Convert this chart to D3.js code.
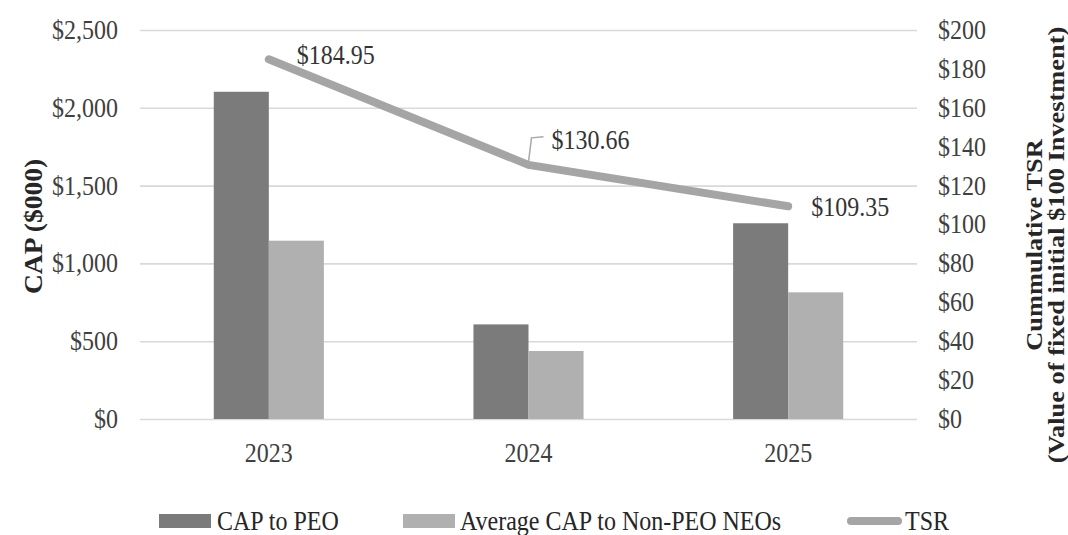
<!DOCTYPE html>
<html lang="en">
  <head>
    <meta charset="utf-8">
    <title>CAP vs TSR</title>
    <script src="https://d3js.org/d3.v7.min.js"></script>
    <style>
      body { margin: 0; background: #fff; }
      svg { display: block; font-family: "Liberation Serif", "Times New Roman", serif; }
    </style>
  </head>
  <body>
    <div id="chart"></div>
    <script>
      // data
      let years = ["2023", "2024", "2025"];
      let capPeo = [2103, 608, 1258];      // CAP to PEO ($000)
      let capNeo = [1146, 437, 814];       // Average CAP to Non-PEO NEOs ($000)
      let tsr = [184.95, 130.66, 109.35];  // cumulative TSR
      let leftTicks = [0, 500, 1000, 1500, 2000, 2500];
      let rightTicks = [0, 20, 40, 60, 80, 100, 120, 140, 160, 180, 200];

      let w = 1068, h = 535;
      let x0 = 139, x1 = 918, yTop = 30, yBot = 419;
      let sy = 1.1; // text looks a bit stretched vertically

      let darkC = "#7b7b7b", lightC = "#b0b0b0", lineC = "#a5a5a5";

      let svg = d3.select("#chart").append("svg")
        .attr("width", w)
        .attr("height", h);

      let x = d3.scaleBand().domain(years).range([x0, x1])
        .paddingInner(0.576).paddingOuter(0.288);
      let xs = d3.scaleBand().domain(["peo", "neo"]).range([0, x.bandwidth()]);
      let yL = d3.scaleLinear().domain([0, 2500]).range([yBot, yTop]);
      let yR = d3.scaleLinear().domain([0, 200]).range([yBot, yTop]);

      // left axis + gridlines
      let gL = svg.append("g")
        .attr("transform", "translate(" + (x0 + 1) + ",0)")
        .call(d3.axisLeft(yL).tickValues(leftTicks)
          .tickSize(-(x1 - x0 - 2)).tickPadding(22)
          .tickFormat(d => "$" + d3.format(",")(d)));
      gL.select(".domain").remove();
      gL.selectAll(".tick line").attr("stroke", "#d9d9d9").attr("stroke-width", 1.6);
      gL.selectAll(".tick text")
        .attr("font-size", 24).attr("fill", "#404040")
        .attr("font-family", "Liberation Serif")
        .attr("transform", "scale(1," + sy + ")");

      // right axis
      let gR = svg.append("g")
        .attr("transform", "translate(" + (x1 - 1) + ",0)")
        .call(d3.axisRight(yR).tickValues(rightTicks)
          .tickSize(0).tickPadding(21)
          .tickFormat(d => "$" + d));
      gR.select(".domain").remove();
      gR.selectAll(".tick text")
        .attr("font-size", 24).attr("fill", "#404040")
        .attr("font-family", "Liberation Serif")
        .attr("transform", "scale(1," + sy + ")");

      // bottom axis (labels only)
      let gB = svg.append("g")
        .attr("transform", "translate(0," + yBot + ")")
        .call(d3.axisBottom(x).tickSize(0).tickPadding(22));
      gB.select(".domain").remove();
      gB.selectAll(".tick text")
        .attr("font-size", 24).attr("fill", "#404040")
        .attr("font-family", "Liberation Serif")
        .attr("transform", "scale(1," + sy + ")");

      // bars
      let rows = years.map((y, i) => ({ year: y, peo: capPeo[i], neo: capNeo[i] }));
      let grp = svg.append("g").selectAll("g")
        .data(rows)
        .enter()
        .append("g")
        .attr("transform", d => "translate(" + x(d.year) + ",0)");
      grp.selectAll("rect")
        .data(d => [{ k: "peo", v: d.peo }, { k: "neo", v: d.neo }])
        .enter()
        .append("rect")
        .attr("x", d => xs(d.k))
        .attr("y", d => yL(d.v))
        .attr("width", xs.bandwidth())
        .attr("height", d => yBot - yL(d.v))
        .attr("fill", d => d.k == "peo" ? darkC : lightC);

      // TSR line
      let pts = years.map((y, i) => [x(y) + x.bandwidth() / 2, yR(tsr[i])]);
      svg.append("path")
        .datum(pts)
        .attr("d", d3.line())
        .attr("fill", "none")
        .attr("stroke", lineC)
        .attr("stroke-width", 8)
        .attr("stroke-linejoin", "round")
        .attr("stroke-linecap", "round");

      // leader for the 2024 label
      let p1 = pts[1];
      svg.append("polyline")
        .attr("points", [[p1[0], p1[1] - 3], [p1[0] + 3, p1[1] - 27], [p1[0] + 15, p1[1] - 28]].join(" "))
        .attr("fill", "none")
        .attr("stroke", "#a8a8a8")
        .attr("stroke-width", 1.5);

      // TSR value labels
      let offs = [[28, -5], [23, -25], [23, 0]];
      svg.selectAll("text.lab")
        .data(tsr)
        .enter()
        .append("text")
        .attr("class", "lab")
        .attr("transform", (d, i) => "translate(" + (pts[i][0] + offs[i][0]) + "," + (pts[i][1] + offs[i][1]) + ") scale(1," + sy + ")")
        .attr("dy", "0.35em")
        .attr("font-size", 24)
        .attr("fill", "#333")
        .text(d => "$" + d3.format(".2f")(d));

      // axis titles
      svg.append("text")
        .attr("transform", "translate(42," + ((yTop + yBot) / 2 + 2) + ") rotate(-90) scale(" + sy + ",1)")
        .attr("text-anchor", "middle")
        .attr("font-size", 25)
        .attr("font-weight", "bold")
        .attr("fill", "#262626")
        .text("CAP ($000)");

      let rt = svg.append("text")
        .attr("transform", "translate(1042,245) rotate(-90) scale(" + sy + ",1)")
        .attr("text-anchor", "middle")
        .attr("font-size", 24)
        .attr("font-weight", "bold")
        .attr("fill", "#262626");
      rt.append("tspan").attr("x", 0).attr("dy", 0).text("Cummulative TSR");
      rt.append("tspan").attr("x", 0).attr("dy", 22).text("(Value of fixed initial $100 Investment)");

      // legend
      let ly = 521;
      let legend = [
        { name: "CAP to PEO", type: "rect", c: darkC, sx: 159, tx: 217 },
        { name: "Average CAP to Non-PEO NEOs", type: "rect", c: lightC, sx: 403, tx: 460 },
        { name: "TSR", type: "line", c: lineC, sx: 847, tx: 905 }
      ];
      let lg = svg.append("g").selectAll("g")
        .data(legend)
        .enter()
        .append("g");
      lg.filter(d => d.type == "rect").append("rect")
        .attr("x", d => d.sx).attr("y", ly - 7)
        .attr("width", 52).attr("height", 14)
        .attr("fill", d => d.c);
      lg.filter(d => d.type == "line").append("line")
        .attr("x1", d => d.sx + 4).attr("x2", d => d.sx + 51)
        .attr("y1", ly).attr("y2", ly)
        .attr("stroke", d => d.c).attr("stroke-width", 8)
        .attr("stroke-linecap", "round");
      lg.append("text")
        .attr("transform", d => "translate(" + d.tx + "," + ly + ") scale(1," + sy + ")")
        .attr("dy", "0.35em")
        .attr("font-size", 24)
        .attr("fill", "#262626")
        .text(d => d.name);
    </script>
  </body>
</html>
